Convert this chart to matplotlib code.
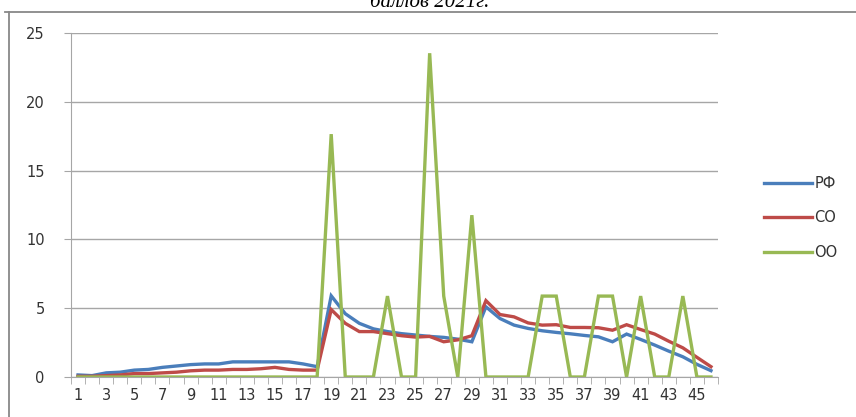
import matplotlib
matplotlib.use("Agg")
import matplotlib.pyplot as plt
from matplotlib.lines import Line2D

categories = list(range(1, 47))
rf = [0.15, 0.1, 0.3, 0.35, 0.5, 0.55, 0.7, 0.8, 0.9, 0.95, 0.95, 1.1, 1.1, 1.1, 1.1, 1.1,
      0.95, 0.75, 5.9, 4.6, 3.9, 3.5, 3.3, 3.15, 3.05, 2.95, 2.88, 2.75, 2.56, 5.1,
      4.25, 3.77, 3.53, 3.36, 3.24, 3.14, 3.02, 2.92, 2.56, 3.12, 2.73, 2.32, 1.88,
      1.47, 0.92, 0.46]
so = [0.05, 0.05, 0.1, 0.15, 0.25, 0.25, 0.3, 0.35, 0.45, 0.5, 0.5, 0.55, 0.55, 0.6, 0.7,
      0.55, 0.5, 0.5, 4.9, 3.9, 3.3, 3.3, 3.15, 3.0, 2.9, 2.95, 2.56, 2.7, 3.0, 5.55,
      4.54, 4.37, 3.93, 3.77, 3.8, 3.6, 3.6, 3.58, 3.4, 3.8, 3.45, 3.12, 2.6, 2.12,
      1.43, 0.75]
oo = [0] * 18 + [17.65, 0, 0, 0, 5.88, 0, 0, 23.53, 5.88, 0, 11.76, 0, 0, 0, 0,
                 5.88, 5.88, 0, 0, 5.88, 5.88, 0, 5.88, 0, 0, 5.88, 0, 0]
series_names = ["РФ", "СО", "ОО"]
colors = ["#4A7EBB", "#BE4B48", "#98B954"]
y_ticks = [0, 5, 10, 15, 20, 25]
x_labels = [str(c) if c % 2 == 1 else "" for c in categories]

W, H = 856, 417
fig = plt.figure(figsize=(W / 100, H / 100), dpi=100)
ax = fig.add_axes([71 / W, 1 - 377 / H, (718 - 71) / W, (377 - 33) / H])

for vals, col, name in zip([rf, so, oo], colors, series_names):
    ax.plot(categories, vals, color=col, lw=2.4, label=name, solid_joinstyle="miter")

ax.set_xlim(0.5, 46.5)
ax.set_ylim(0, 25)
ax.set_yticks(y_ticks)
ax.yaxis.grid(True, color="#A6A6A6", lw=1)
ax.set_axisbelow(True)
for s in ["top", "right"]:
    ax.spines[s].set_visible(False)
for s in ["left", "bottom"]:
    ax.spines[s].set_color("#A6A6A6")
ax.set_xticks(categories)
ax.set_xticklabels(x_labels)
ax.set_xticks([c + 0.5 for c in [0] + categories], minor=True)
ax.tick_params(axis="x", which="major", length=0, pad=8, labelsize=10.5, colors="#333333")
ax.tick_params(axis="x", which="minor", length=5, color="#A6A6A6")
ax.tick_params(axis="y", length=5, color="#A6A6A6", pad=14, labelsize=10.5, labelcolor="#333333")
for lbl in ax.get_xticklabels() + ax.get_yticklabels():
    lbl.set_fontfamily("DejaVu Sans")

handles = [Line2D([], [], color=c, lw=2.4) for c in colors]
fig.legend(handles, series_names, loc="center left", bbox_to_anchor=(751 / W, 1 - 218 / H),
           frameon=False, fontsize=10.5, handlelength=3.3, handletextpad=0.15,
           labelspacing=1.35, labelcolor="#333333")

# outer frame
fig.add_artist(Line2D([5 / W, 1], [1 - 12 / H, 1 - 12 / H], color="#888888", lw=1.3,
                      transform=fig.transFigure))
fig.add_artist(Line2D([9 / W, 9 / W], [0, 1 - 12 / H], color="#888888", lw=1.3,
                      transform=fig.transFigure))

fig.text(430 / W, 1 - 7 / H, "баллов 2021г.", ha="center", va="baseline",
         family="Liberation Serif", style="italic", fontsize=15)

fig.savefig("out.png", dpi=100)
